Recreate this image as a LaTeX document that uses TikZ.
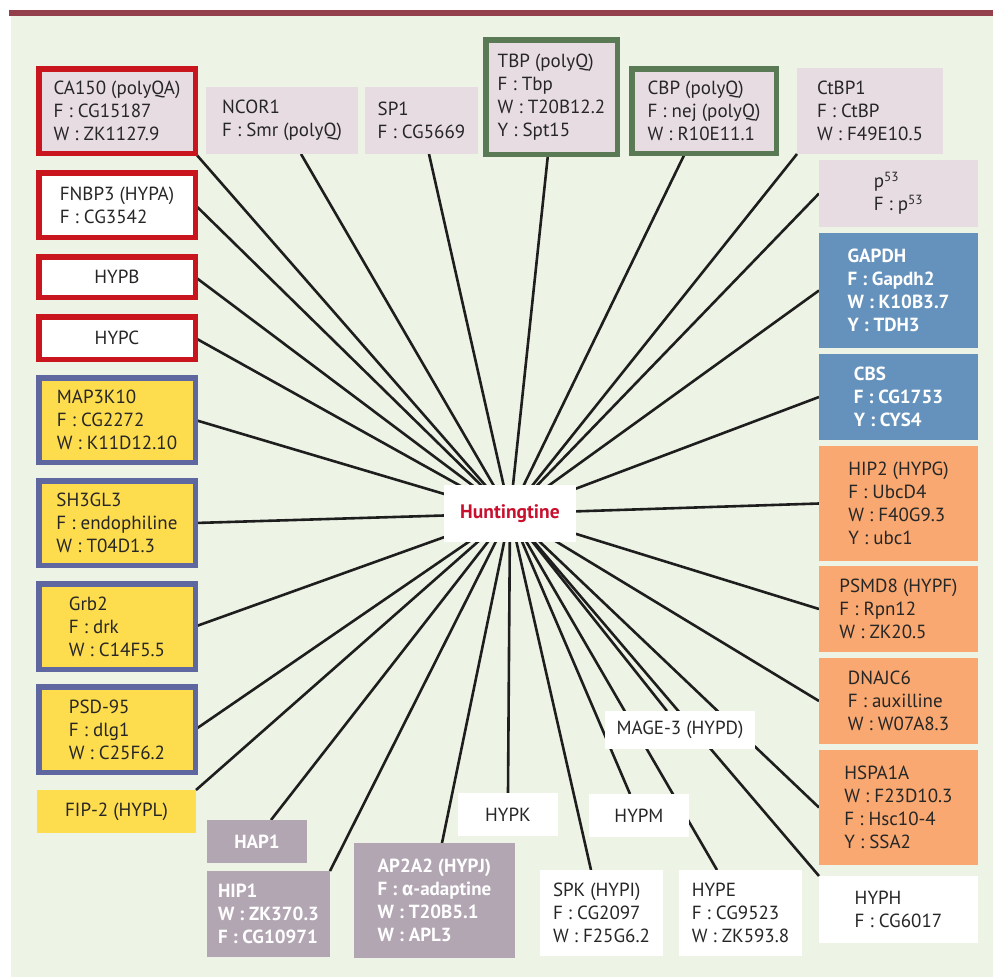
\documentclass[tikz,border=0pt]{standalone}
\usepackage{fontspec}
\setmainfont{PT Sans}
\newfontfamily\grkfont{Fira Sans}
\usepackage{tikz}
\usetikzlibrary{backgrounds}
\definecolor{bggreen}{HTML}{EEF4E5}
\definecolor{rulered}{HTML}{943F4C}
\definecolor{pinkfill}{HTML}{E8DCE3}
\definecolor{redframe}{HTML}{C8151E}
\definecolor{greenframe}{HTML}{5A7A55}
\definecolor{blueframe}{HTML}{5E67A0}
\definecolor{yellowfill}{HTML}{FDDC4D}
\definecolor{bluefill}{HTML}{6592BC}
\definecolor{orangefill}{HTML}{F8A870}
\definecolor{mauvefill}{HTML}{B2A6B3}
\definecolor{hubred}{HTML}{C8102E}
\definecolor{txtgray}{HTML}{262626}
\definecolor{linegray}{HTML}{1E1E1E}

\begin{document}
\begin{tikzpicture}[auto, x=1pt, y=-1pt,
    partner/.style ={rectangle, inner sep=0pt, outer sep=0pt, align=left, text=txtgray, font=\fontsize{19}{23}\selectfont},
    boxsize/.style 2 args ={minimum width=#1pt, minimum height=#2pt},
    pinkbox/.style ={partner, fill=pinkfill},
    whitebox/.style ={partner, fill=white},
    yellowbox/.style ={partner, fill=yellowfill},
    orangebox/.style ={partner, fill=orangefill},
    bluebox/.style ={partner, fill=bluefill, text=white, font=\fontsize{19}{23}\selectfont\bfseries},
    mauvebox/.style ={partner, fill=mauvefill, text=white, font=\fontsize{19}{23}\selectfont\bfseries},
    redrim/.style ={draw=redframe, line width=5.5pt},
    greenrim/.style ={draw=greenframe, line width=5.5pt},
    bluerim/.style ={draw=blueframe, line width=5.5pt},
    spoke/.style ={draw=linegray, line width=2.6pt}]
   \useasboundingbox (0,0) rectangle (993,977);

   \node[pinkbox, redrim, boxsize={156.5}{84.5}] (CA) at (117,111) {CA150 (polyQA)\\F : CG15187\\W : ZK1127.9};
   \node[whitebox, redrim, boxsize={156.5}{64.5}] (FNBP) at (117,205) {FNBP3 (HYPA)\\F : CG3542};
   \node[whitebox, redrim, boxsize={156.5}{40.5}] (HYPB) at (117,277) {HYPB};
   \node[whitebox, redrim, boxsize={156.5}{42.5}] (HYPC) at (117,338) {HYPC};
   \node[yellowbox, bluerim, boxsize={156.5}{84.5}] (MAP) at (117,420) {MAP3K10\\F : CG2272\\W : K11D12.10};
   \node[yellowbox, bluerim, boxsize={156.5}{84.5}] (SH) at (117,523) {SH3GL3\\F : endophiline\\W : T04D1.3};
   \node[yellowbox, bluerim, boxsize={156.5}{85.5}] (GRB) at (117,626.5) {Grb2\\F : drk\\W : C14F5.5};
   \node[yellowbox, bluerim, boxsize={156.5}{85.5}] (PSD) at (117,729.5) {PSD-95\\F : dlg1\\W : C25F6.2};
   \node[yellowbox, boxsize={159}{43}] (FIP) at (116.5,811.5) {FIP-2 (HYPL)};

   \node[pinkbox, boxsize={152}{67}] (NCOR) at (282,120.5) {NCOR1\\F : Smr (polyQ)};
   \node[pinkbox, boxsize={113}{67}] (SP) at (421.5,120.5) {SP1\\F : CG5669};
   \node[pinkbox, greenrim, boxsize={131.5}{114.5}] (TBP) at (551.5,97) {TBP (polyQ)\\F : Tbp\\W : T20B12.2\\Y : Spt15};
   \node[pinkbox, greenrim, boxsize={144.5}{84.5}] (CBP) at (704,111) {CBP (polyQ)\\F : nej (polyQ)\\W : R10E11.1};
   \node[pinkbox, boxsize={146}{86}] (CTBP) at (870,111) {CtBP1\\F : CtBP\\W : F49E10.5};

   \node[pinkbox, boxsize={159}{67}] (PLIII) at (898.5,193.5) {p\textsuperscript{53}\\F : p\textsuperscript{53}};
   \node[bluebox, boxsize={159}{115}] (GAPDH) at (898.5,290.5) {GAPDH\\F : Gapdh2\\W : K10B3.7\\Y : TDH3};
   \node[bluebox, boxsize={159}{86}] (CBS) at (898.5,397) {CBS\\F : CG1753\\Y : CYS4};
   \node[orangebox, boxsize={159}{115}] (HIPII) at (898.5,503.5) {HIP2 (HYPG)\\F : UbcD4\\W : F40G9.3\\Y : ubc1};
   \node[orangebox, boxsize={159}{86}] (PSMD) at (898.5,609) {PSMD8 (HYPF)\\F : Rpn12\\W : ZK20.5};
   \node[orangebox, boxsize={159}{86}] (DNAJ) at (898.5,701) {DNAJC6\\F : auxilline\\W : W07A8.3};
   \node[orangebox, boxsize={159}{115}] (HSPA) at (898.5,807.5) {HSPA1A\\W : F23D10.3\\F : Hsc10-4\\Y : SSA2};
   \node[whitebox, boxsize={159}{67}] (HYPH) at (898.5,909.5) {HYPH\\F : CG6017};

   \node[mauvebox, boxsize={100}{43}] (HAP) at (257,841.5) {HAP1};
   \node[mauvebox, boxsize={123}{86}] (HIPI) at (268.5,914) {HIP1\\W : ZK370.3\\F : CG10971};
   \node[mauvebox, boxsize={161}{115}] (AP) at (434.5,900.5) {AP2A2 (HYPJ)\\F : {\grkfont\bfseries α}-adaptine\\W : T20B5.1\\W : APL3};
   \node[whitebox, boxsize={100}{43}] (HYPK) at (508,814.5) {HYPK};
   \node[whitebox, boxsize={100}{43}] (HYPM) at (639,815.5) {HYPM};
   \node[whitebox, boxsize={150}{38}] (MAGE) at (680,730) {MAGE-3 (HYPD)};
   \node[whitebox, boxsize={123}{86}] (SPK) at (601.5,913) {SPK (HYPI)\\F : CG2097\\W : F25G6.2};
   \node[whitebox, boxsize={123}{86}] (HYPE) at (740.5,913) {HYPE\\F : CG9523\\W : ZK593.8};

   \node[whitebox, boxsize={132}{57}, text=hubred, font=\fontsize{19.5}{23}\selectfont\bfseries] (HUB) at (510,513.5) {Huntingtine};

   \begin{scope}[on background layer]
   \fill[bggreen] (11,16) rectangle (993,977);
   \fill[rulered] (9,10) rectangle (993,16);
   \draw[spoke] (CA.south east) to (HUB.center);
   \draw[spoke] ([xshift=19pt]NCOR.south) to (HUB.center);
   \draw[spoke] ([xshift=7.5pt]SP.south) to (HUB.center);
   \draw[spoke] ([xshift=-3.5pt]TBP.south) to (HUB.center);
   \draw[spoke] ([xshift=-19pt]CBP.south) to (HUB.center);
   \draw[spoke] (CTBP.south west) to (HUB.center);
   \draw[spoke] (PLIII.west) to (HUB.center);
   \draw[spoke] (GAPDH.west) to (HUB.center);
   \draw[spoke] (CBS.west) to (HUB.center);
   \draw[spoke] (HIPII.west) to (HUB.center);
   \draw[spoke] (PSMD.west) to (HUB.center);
   \draw[spoke] (DNAJ.west) to (HUB.center);
   \draw[spoke] (HSPA.west) to (HUB.center);
   \draw[spoke] (HYPH.north west) to (HUB.center);
   \draw[spoke] ([xshift=-23.5pt]HYPE.north) to (HUB.center);
   \draw[spoke] ([xshift=-9pt]HYPM.north) to (HUB.center);
   \draw[spoke] ([xshift=-13pt]MAGE.north) to (HUB.center);
   \draw[spoke] ([xshift=-10.5pt]SPK.north) to (HUB.center);
   \draw[spoke] (HYPK.north) to (HUB.center);
   \draw[spoke] ([xshift=7.5pt]AP.north) to (HUB.center);
   \draw[spoke] (HIPI.north east) to (HUB.center);
   \draw[spoke] ([xshift=14pt]HAP.north) to (HUB.center);
   \draw[spoke] (FIP.north east) to (HUB.center);
   \draw[spoke] (PSD.east) to (HUB.center);
   \draw[spoke] (GRB.east) to (HUB.center);
   \draw[spoke] (SH.east) to (HUB.center);
   \draw[spoke] (MAP.east) to (HUB.center);
   \draw[spoke] (HYPC.east) to (HUB.center);
   \draw[spoke] (HYPB.east) to (HUB.center);
   \draw[spoke] (FNBP.east) to (HUB.center);
   \end{scope}

 \end{tikzpicture}
\end{document}
